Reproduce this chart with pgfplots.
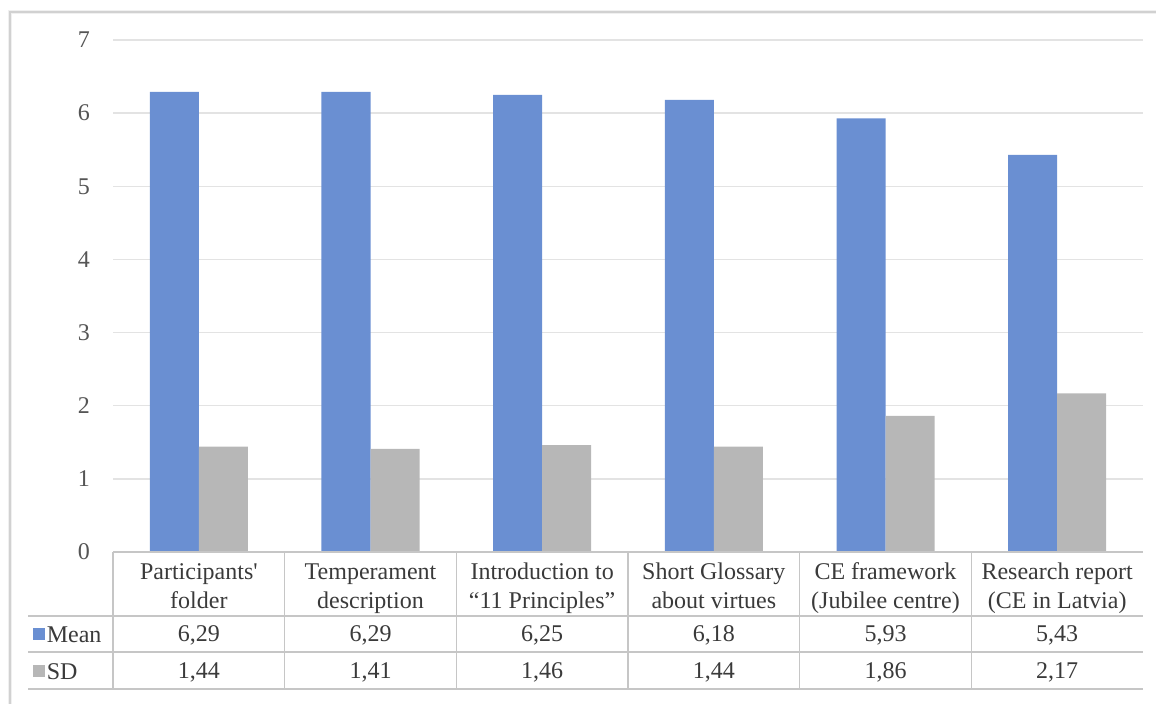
\documentclass[border=0pt]{standalone}
\usepackage{fontspec}
\setmainfont{Liberation Serif}[Ligatures=TeXOff]
\usepackage{pgfplots}
\usepackage{pgfplotstable}
\pgfplotsset{compat=1.18}

\definecolor{meanblue}{HTML}{6A8FD2}
\definecolor{sdgrey}{HTML}{B7B7B7}
\definecolor{gridgrey}{HTML}{E3E3E3}
\definecolor{rulegrey}{HTML}{C6C6C6}
\definecolor{txt}{HTML}{3A3A3A}
\definecolor{ticktxt}{HTML}{555555}

% Ratings of the course materials: mean and standard deviation
\pgfplotstableread{
idx mean sd
0   6.29 1.44
1   6.29 1.41
2   6.25 1.46
3   6.18 1.44
4   5.93 1.86
5   5.43 2.17
}\ratings

\begin{document}
\begin{tikzpicture}[font=\fontsize{12}{14.5}\selectfont]
\begin{axis}[
  name=ax,
  scale only axis,
  width=515pt, height=256pt,
  xmin=-0.5, xmax=5.5,
  ymin=0, ymax=7,
  ytick={0,...,7},
  xtick={0,...,5},
  xticklabels={{Participants'\\folder},
               {Temperament\\description},
               {Introduction to\\“11 Principles”},
               {Short Glossary\\about virtues},
               {CE framework\\(Jubilee centre)},
               {Research report\\(CE in Latvia)}},
  xticklabel style={align=center, anchor=center, text depth=0pt,
                    yshift=-17pt, text=txt},
  yticklabel style={anchor=east, xshift=-8pt, text=ticktxt},
  /pgf/number format/assume math mode=true,
  ymajorgrids,
  grid style={gridgrey, line width=0.7pt},
  axis line style={draw=none},
  major tick length=0pt,
  ybar=0pt,
  bar width=24.5pt,
  clip=false,
]
\addplot[fill=meanblue, draw=none] table[x=idx, y=mean] {\ratings};
\addplot[fill=sdgrey, draw=none] table[x=idx, y=sd] {\ratings};

% data table below the bars
\draw[rulegrey, line width=0.8pt] (axis cs:-0.5,0) -- (axis cs:5.5,0);
\pgfplotsinvokeforeach{-0.875,-1.367,-1.873}{
  \draw[rulegrey, line width=0.8pt] (axis cs:-0.995,#1) -- (axis cs:5.5,#1);
}
\pgfplotsinvokeforeach{-0.5,0.5,1.5,2.5,3.5,4.5}{
  \draw[rulegrey, line width=0.8pt] (axis cs:#1,0) -- (axis cs:#1,-1.873);
}
% legend keys
\fill[meanblue] (axis cs:-0.931,-1.125) ++(-2.9pt,-2.9pt) rectangle ++(5.8pt,5.8pt);
\fill[sdgrey] (axis cs:-0.931,-1.631) ++(-2.9pt,-2.9pt) rectangle ++(5.8pt,5.8pt);
\node[anchor=west, inner sep=0pt, text=txt] at (axis cs:-0.888,-1.135) {Mean};
\node[anchor=west, inner sep=0pt, text=txt] at (axis cs:-0.888,-1.641) {SD};
% values
\node[text=txt] at (axis cs:0,-1.135) {6,29};
\node[text=txt] at (axis cs:1,-1.135) {6,29};
\node[text=txt] at (axis cs:2,-1.135) {6,25};
\node[text=txt] at (axis cs:3,-1.135) {6,18};
\node[text=txt] at (axis cs:4,-1.135) {5,93};
\node[text=txt] at (axis cs:5,-1.135) {5,43};
\node[text=txt] at (axis cs:0,-1.641) {1,44};
\node[text=txt] at (axis cs:1,-1.641) {1,41};
\node[text=txt] at (axis cs:2,-1.641) {1,46};
\node[text=txt] at (axis cs:3,-1.641) {1,44};
\node[text=txt] at (axis cs:4,-1.641) {1,86};
\node[text=txt] at (axis cs:5,-1.641) {2,17};
\end{axis}

% chart frame (left and top edges)
\begin{scope}[shift={(ax.south west)}]
  \draw[black!6, line width=2.4pt] (-51.5pt,-76pt) -- (-51.5pt,270pt) -- (521.5pt,270pt);
  \draw[black!18, line width=0.8pt] (-51.5pt,-76pt) -- (-51.5pt,270pt) -- (521.5pt,270pt);
\end{scope}
\pgfresetboundingbox
\path[use as bounding box, shift={(ax.south west)}] (-56.5pt,-76pt) rectangle (521.5pt,276pt);
\end{tikzpicture}
\end{document}
